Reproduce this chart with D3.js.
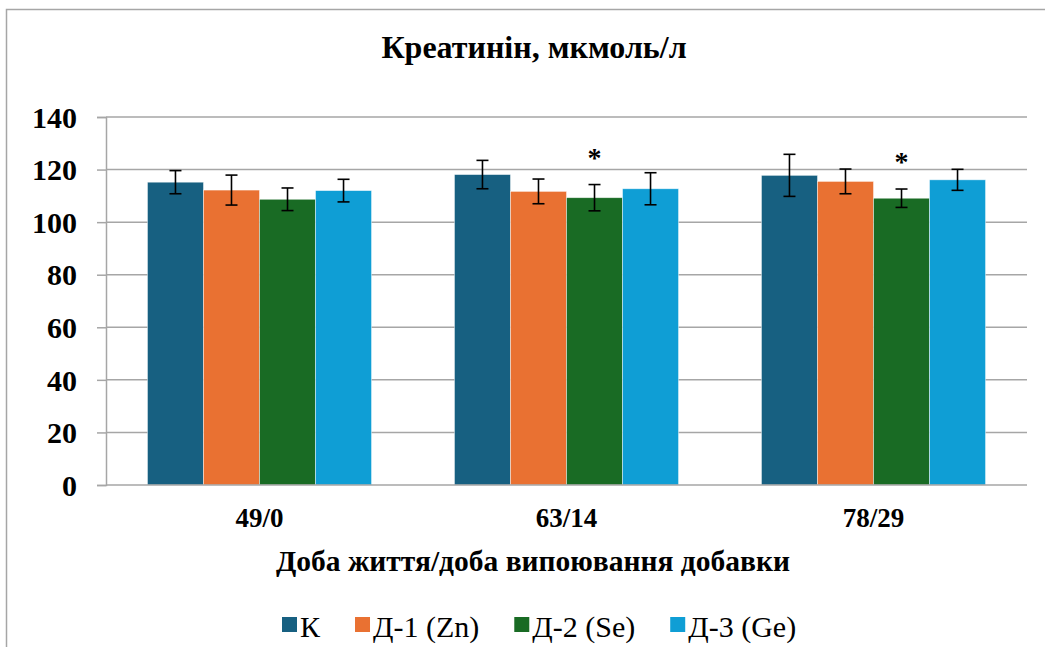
<!DOCTYPE html>
<html>
<head>
<meta charset="utf-8">
<script src="https://cdn.jsdelivr.net/npm/d3@7"></script>
<style>
  html, body { margin: 0; padding: 0; background: #fff; }
</style>
</head>
<body>
<svg id="chart" width="1045" height="647"></svg>
<script>
// Creatinine levels by day of life / day of supplementation
const categories = ["49/0", "63/14", "78/29"];
const seriesNames = ["К", "Д-1 (Zn)", "Д-2 (Se)", "Д-3 (Ge)"];
const seriesColors = ["#176081", "#E97132", "#196B24", "#0F9ED5"];

const valuesK   = [115.2, 118.1, 117.8];
const valuesZn  = [112.2, 111.7, 115.5];
const valuesSe  = [108.7, 109.3, 109.1];
const valuesGe  = [112.0, 112.7, 116.1];

const errorsK   = [4.4, 5.4, 8.0];
const errorsZn  = [5.7, 4.7, 4.7];
const errorsSe  = [4.3, 5.0, 3.5];
const errorsGe  = [4.3, 6.1, 4.0];

// significance marks: [series index, category index]
const significant = [[2, 1], [2, 2]];

const yTicks = [0, 20, 40, 60, 80, 100, 120, 140];

const seriesValues = [valuesK, valuesZn, valuesSe, valuesGe];
const seriesErrors = [errorsK, errorsZn, errorsSe, errorsGe];

const FONT = "Liberation Serif";
const svg = d3.select("#chart");
const plot = { left: 106, right: 1027, top: 117, bottom: 485 };
const gridColor = "#a6a6a6";

// outer chart frame
svg.append("rect")
  .attr("x", 6.5).attr("y", 9.5)
  .attr("width", 1200).attr("height", 800)
  .attr("fill", "none").attr("stroke", gridColor).attr("stroke-width", 1.5);

const x0 = d3.scaleBand().domain(categories).range([plot.left, plot.right]).padding(0);
const x1 = d3.scaleBand().domain(d3.range(seriesNames.length))
  .range([0, x0.bandwidth()]).paddingInner(0).paddingOuter(0.74);
const y = d3.scaleLinear().domain([0, 140]).range([plot.bottom, plot.top]);

// gridlines
svg.append("g")
  .selectAll("line").data(yTicks.filter(t => t > 0)).join("line")
  .attr("x1", plot.left).attr("x2", plot.right)
  .attr("y1", d => y(d)).attr("y2", d => y(d))
  .attr("stroke", gridColor).attr("stroke-width", 1.5);

// y axis
const yAxis = svg.append("g")
  .attr("transform", `translate(${plot.left},0)`)
  .call(d3.axisLeft(y).tickValues(yTicks).tickSize(9).tickPadding(20).tickFormat(d3.format("d")));
yAxis.attr("font-family", FONT);
yAxis.select(".domain").attr("stroke", gridColor).attr("stroke-width", 1.5);
yAxis.selectAll(".tick line").attr("stroke", gridColor).attr("stroke-width", 1.5);
yAxis.selectAll(".tick text")
  .attr("font-size", 30).attr("font-weight", "bold").attr("fill", "#000")
  .attr("dy", "0.34em");

// bars
const groups = svg.append("g").selectAll("g").data(categories).join("g")
  .attr("transform", d => `translate(${x0(d)},0)`);

groups.selectAll("rect")
  .data((c, ci) => seriesNames.map((s, si) => ({ si, ci, v: seriesValues[si][ci] })))
  .join("rect")
  .attr("x", d => x1(d.si))
  .attr("width", x1.bandwidth())
  .attr("y", d => y(d.v))
  .attr("height", d => y(0) - y(d.v))
  .attr("fill", d => seriesColors[d.si])
  .attr("stroke", "#ffffff").attr("stroke-opacity", 0.6).attr("stroke-width", 0.75);

// x axis baseline
svg.append("line")
  .attr("x1", plot.left).attr("x2", plot.right)
  .attr("y1", y(0)).attr("y2", y(0))
  .attr("stroke", gridColor).attr("stroke-width", 1.5);

// error bars
const errData = [];
categories.forEach((c, ci) => seriesNames.forEach((s, si) => {
  errData.push({ cx: x0(c) + x1(si) + x1.bandwidth() / 2, v: seriesValues[si][ci], e: seriesErrors[si][ci] });
}));
const eg = svg.append("g").attr("stroke", "#000").attr("stroke-width", 1.6);
eg.selectAll("line.v").data(errData).join("line").attr("class", "v")
  .attr("x1", d => d.cx).attr("x2", d => d.cx)
  .attr("y1", d => y(d.v + d.e)).attr("y2", d => y(d.v - d.e));
eg.selectAll("line.t").data(errData).join("line").attr("class", "t")
  .attr("x1", d => d.cx - 6).attr("x2", d => d.cx + 6)
  .attr("y1", d => y(d.v + d.e)).attr("y2", d => y(d.v + d.e));
eg.selectAll("line.b").data(errData).join("line").attr("class", "b")
  .attr("x1", d => d.cx - 6).attr("x2", d => d.cx + 6)
  .attr("y1", d => y(d.v - d.e)).attr("y2", d => y(d.v - d.e));

// significance asterisks
svg.append("g").selectAll("text").data(significant).join("text")
  .attr("x", d => x0(categories[d[1]]) + x1(d[0]) + x1.bandwidth() / 2)
  .attr("y", d => y(seriesValues[d[0]][d[1]] + seriesErrors[d[0]][d[1]]) - 18)
  .attr("text-anchor", "middle")
  .attr("font-family", FONT)
  .attr("font-size", 28).attr("font-weight", "bold")
  .text("*");

// category labels
svg.append("g").selectAll("text").data(categories).join("text")
  .attr("x", d => x0(d) + x0.bandwidth() / 2)
  .attr("y", 527)
  .attr("text-anchor", "middle")
  .attr("font-family", FONT)
  .attr("font-size", 27).attr("font-weight", "bold")
  .text(d => d);

// title
svg.append("text")
  .attr("x", 534).attr("y", 58)
  .attr("text-anchor", "middle")
  .attr("font-family", FONT)
  .attr("font-size", 32).attr("font-weight", "bold")
  .text("Креатинін, мкмоль/л");

// x axis title
svg.append("text")
  .attr("x", 533).attr("y", 571)
  .attr("text-anchor", "middle")
  .attr("font-family", FONT)
  .attr("font-size", 29.5).attr("font-weight", "bold")
  .text("Доба життя/доба випоювання добавки");

// legend
const legend = svg.append("g");
let lx = 282;
seriesNames.forEach((name, i) => {
  legend.append("rect")
    .attr("x", lx).attr("y", 617).attr("width", 15).attr("height", 15)
    .attr("fill", seriesColors[i]);
  const t = legend.append("text")
    .attr("x", lx + 18).attr("y", 637)
    .attr("font-family", FONT)
    .attr("font-size", 30)
    .text(name);
  lx += 18 + t.node().getComputedTextLength() + 35;
});
</script>
</body>
</html>
